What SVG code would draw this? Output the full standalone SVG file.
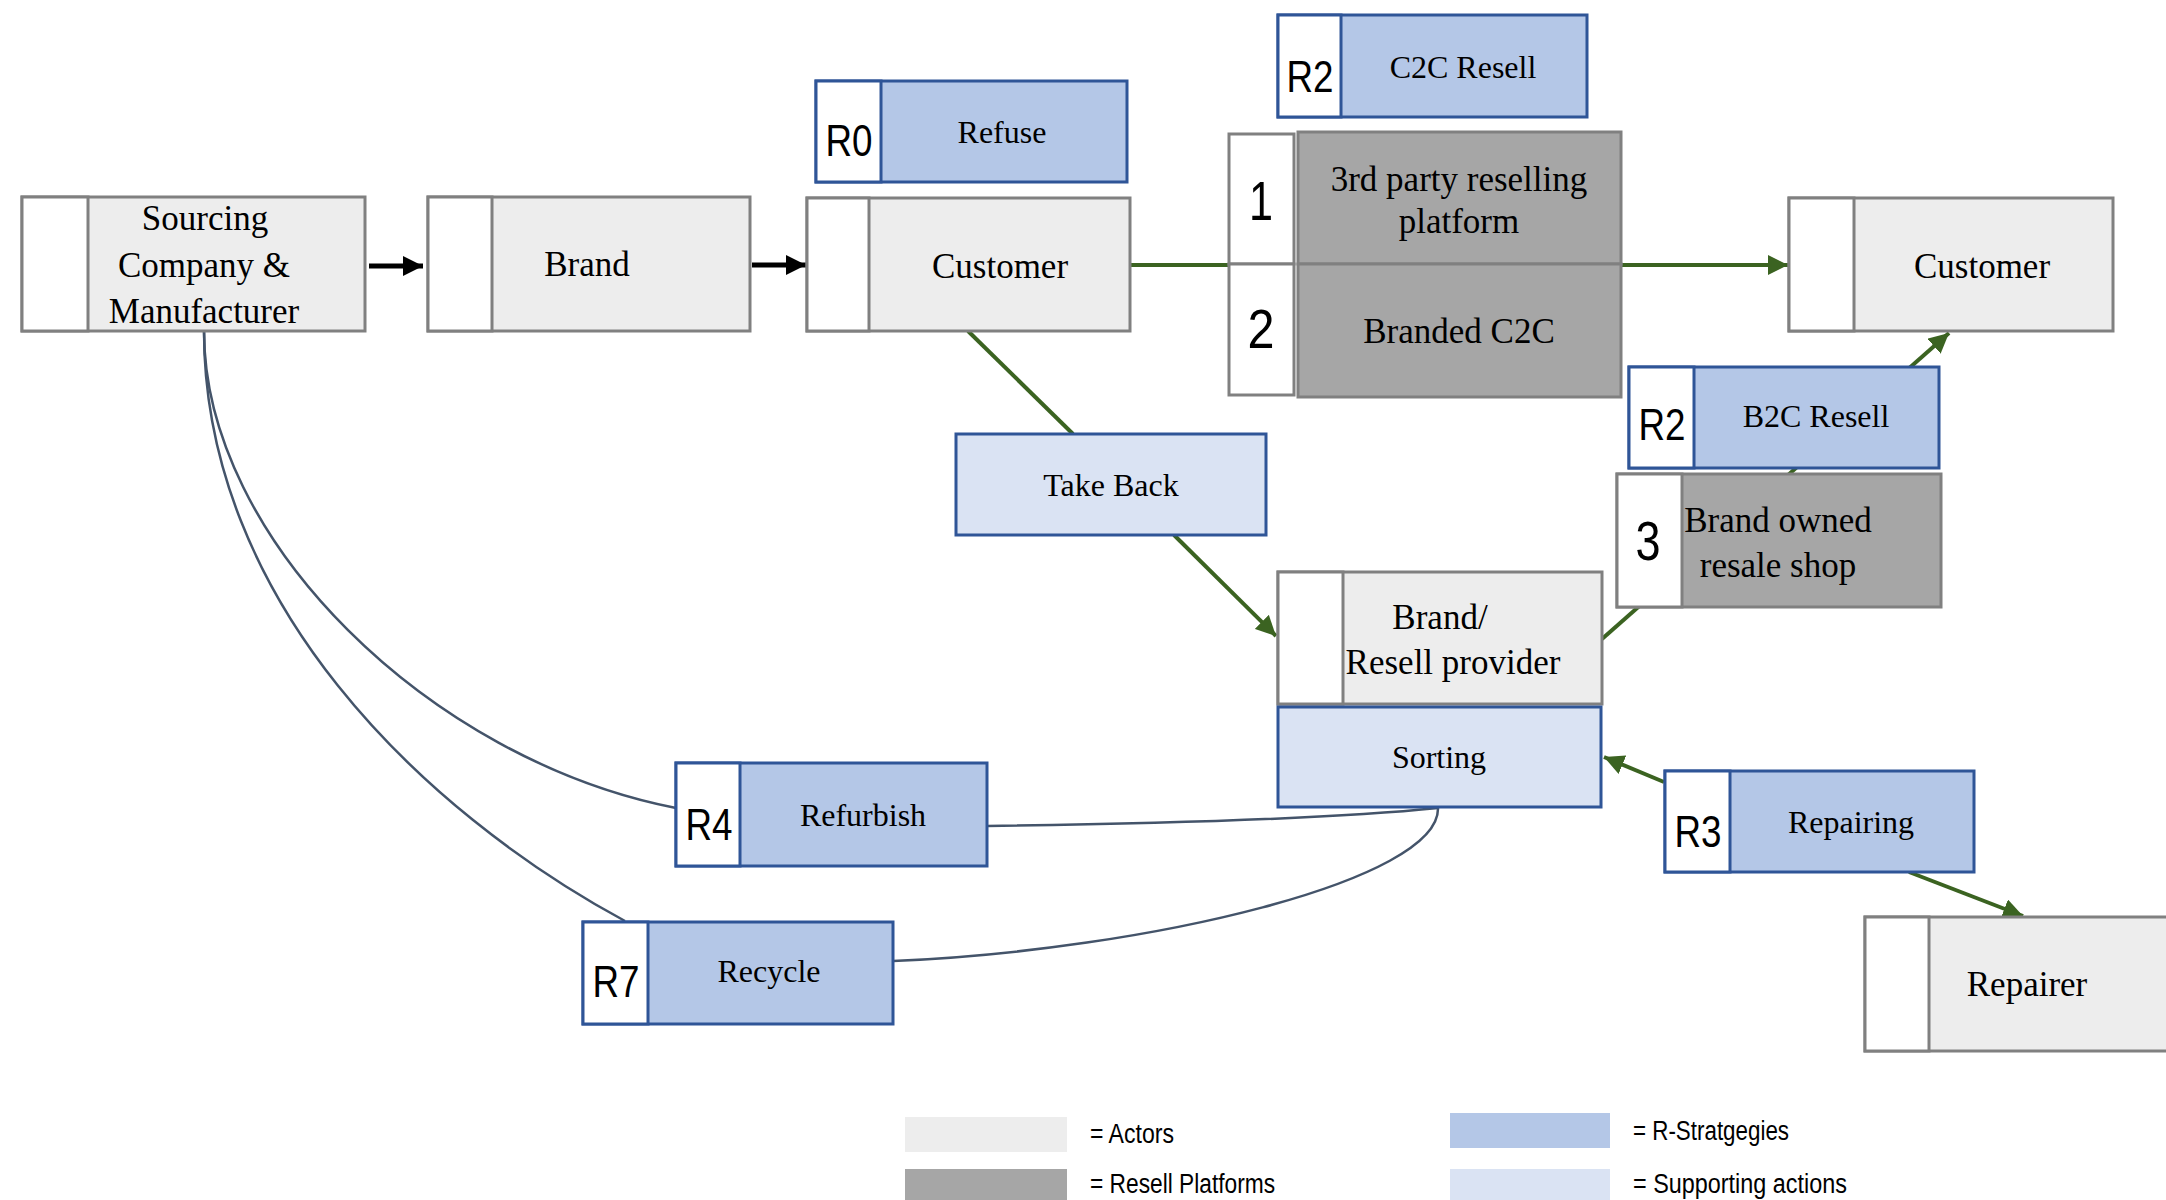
<svg xmlns="http://www.w3.org/2000/svg" width="2166" height="1200" viewBox="0 0 2166 1200">
<defs>
<style>
.act{fill:#EDEDED;stroke:#808080;stroke-width:3}
.plat{fill:#A6A6A6;stroke:#808080;stroke-width:3}
.wg{fill:#FFFFFF;stroke:#808080;stroke-width:3}
.rs{fill:#B4C7E7;stroke:#2F5597;stroke-width:3}
.sup{fill:#DAE3F3;stroke:#2F5597;stroke-width:3}
.wb{fill:#FFFFFF;stroke:#2F5597;stroke-width:3}
.t{font-family:"Liberation Serif","Times New Roman",serif;font-size:35px;fill:#000;text-anchor:middle}
.ts{font-family:"Liberation Serif","Times New Roman",serif;font-size:32px;fill:#000;text-anchor:middle}
.r{font-family:"Liberation Sans",Arial,sans-serif;font-size:44px;fill:#000;text-anchor:middle}
.n{font-family:"Liberation Sans",Arial,sans-serif;font-size:56px;fill:#000;text-anchor:middle}
.lg{font-family:"Liberation Sans",Arial,sans-serif;font-size:27px;fill:#000}
.g{stroke:#3B6321;stroke-width:4;fill:none}
.k{stroke:#000;stroke-width:5;fill:none}
.c{stroke:#44546A;stroke-width:2.5;fill:none}
</style>
<marker id="ag" viewBox="0 0 10 10" refX="10" refY="5" markerWidth="20" markerHeight="20" markerUnits="userSpaceOnUse" orient="auto"><path d="M0,0 L10,5 L0,10 z" fill="#3B6321"/></marker>
<marker id="ak" viewBox="0 0 10 10" refX="10" refY="5" markerWidth="20" markerHeight="21" markerUnits="userSpaceOnUse" orient="auto"><path d="M0,0 L10,5 L0,10 z" fill="#000"/></marker>
</defs>
<rect width="2166" height="1200" fill="#FFFFFF"/>

<g id="connectors">
<line class="k" x1="369" y1="266" x2="423" y2="266" marker-end="url(#ak)"/>
<line class="k" x1="752" y1="265" x2="806" y2="265" marker-end="url(#ak)"/>
<line class="g" x1="1130" y1="265" x2="1229" y2="265"/>
<line class="g" x1="1621" y1="265" x2="1788" y2="265" marker-end="url(#ag)"/>
<line class="g" x1="968" y1="331" x2="1073" y2="434"/>
<line class="g" x1="1174" y1="535" x2="1276" y2="636" marker-end="url(#ag)"/>
<line class="g" x1="1602" y1="639" x2="1949" y2="333" marker-end="url(#ag)"/>
<line class="g" x1="1664" y1="782" x2="1604" y2="757" marker-end="url(#ag)"/>
<line class="g" x1="1909" y1="872" x2="2023" y2="916" marker-end="url(#ag)"/>
<path class="c" d="M204,331 C204,540 430,760 676,808"/>
<path class="c" d="M204,331 C204,600 420,810 625,921"/>
<path class="c" d="M1438,808 Q1300,822 987,826"/>
<path class="c" d="M1438,808 C1440,880 1150,950 893,961"/>
</g>

<g id="sourcing">
<rect class="act" x="22" y="197" width="343" height="134"/>
<rect class="wg" x="22" y="197" width="66" height="134"/>
<text class="t" x="205" y="230">Sourcing</text>
<text class="t" x="204" y="277">Company &amp;</text>
<text class="t" x="204" y="323">Manufacturer</text>
</g>

<g id="brand">
<rect class="act" x="428" y="197" width="322" height="134"/>
<rect class="wg" x="428" y="197" width="64" height="134"/>
<text class="t" x="587" y="276">Brand</text>
</g>

<g id="customer1">
<rect class="act" x="807" y="198" width="323" height="133"/>
<rect class="wg" x="807" y="198" width="62" height="133"/>
<text class="t" x="1000" y="278">Customer</text>
</g>

<g id="refuse">
<rect class="rs" x="816" y="81" width="311" height="101"/>
<rect class="wb" x="816" y="81" width="65" height="101"/>
<text class="r" x="849" y="156" textLength="47" lengthAdjust="spacingAndGlyphs">R0</text>
<text class="ts" x="1002" y="143">Refuse</text>
</g>

<g id="c2c-resell">
<rect class="rs" x="1278" y="15" width="309" height="102"/>
<rect class="wb" x="1278" y="15" width="63" height="102"/>
<text class="r" x="1310" y="92" textLength="47" lengthAdjust="spacingAndGlyphs">R2</text>
<text class="ts" x="1463" y="78">C2C Resell</text>
</g>

<g id="platform1">
<rect class="wg" x="1229" y="134" width="65" height="130"/>
<rect class="plat" x="1298" y="132" width="323" height="132"/>
<text class="n" x="1261" y="220" textLength="24" lengthAdjust="spacingAndGlyphs">1</text>
<text class="t" x="1459" y="191">3rd party reselling</text>
<text class="t" x="1459" y="233">platform</text>
</g>

<g id="platform2">
<rect class="wg" x="1229" y="264" width="65" height="131"/>
<rect class="plat" x="1298" y="264" width="323" height="133"/>
<text class="n" x="1261" y="348" textLength="27" lengthAdjust="spacingAndGlyphs">2</text>
<text class="t" x="1459" y="343">Branded C2C</text>
</g>

<g id="customer2">
<rect class="act" x="1789" y="198" width="324" height="133"/>
<rect class="wg" x="1789" y="198" width="65" height="133"/>
<text class="t" x="1982" y="278">Customer</text>
</g>

<g id="b2c-resell">
<rect class="rs" x="1629" y="367" width="310" height="101"/>
<rect class="wb" x="1629" y="367" width="65" height="101"/>
<text class="r" x="1662" y="440" textLength="47" lengthAdjust="spacingAndGlyphs">R2</text>
<text class="ts" x="1816" y="427">B2C Resell</text>
</g>

<g id="platform3">
<rect class="plat" x="1617" y="474" width="324" height="133"/>
<rect class="wg" x="1617" y="474" width="65" height="133"/>
<text class="n" x="1648" y="560" textLength="25" lengthAdjust="spacingAndGlyphs">3</text>
<text class="t" x="1778" y="532">Brand owned</text>
<text class="t" x="1778" y="577">resale shop</text>
</g>

<g id="take-back">
<rect class="sup" x="956" y="434" width="310" height="101"/>
<text class="ts" x="1111" y="496">Take Back</text>
</g>

<g id="resell-provider">
<rect class="act" x="1278" y="572" width="324" height="132"/>
<rect class="wg" x="1278" y="572" width="65" height="132"/>
<text class="t" x="1440" y="629">Brand/</text>
<text class="t" x="1453" y="674">Resell provider</text>
</g>

<g id="sorting">
<rect class="sup" x="1278" y="707" width="323" height="100"/>
<text class="ts" x="1439" y="768">Sorting</text>
</g>

<g id="refurbish">
<rect class="rs" x="676" y="763" width="311" height="103"/>
<rect class="wb" x="676" y="763" width="64" height="103"/>
<text class="r" x="709" y="840" textLength="47" lengthAdjust="spacingAndGlyphs">R4</text>
<text class="ts" x="863" y="826">Refurbish</text>
</g>

<g id="recycle">
<rect class="rs" x="583" y="922" width="310" height="102"/>
<rect class="wb" x="583" y="922" width="65" height="102"/>
<text class="r" x="616" y="997" textLength="47" lengthAdjust="spacingAndGlyphs">R7</text>
<text class="ts" x="769" y="982">Recycle</text>
</g>

<g id="repairing">
<rect class="rs" x="1665" y="771" width="309" height="101"/>
<rect class="wb" x="1665" y="771" width="65" height="101"/>
<text class="r" x="1698" y="847" textLength="47" lengthAdjust="spacingAndGlyphs">R3</text>
<text class="ts" x="1851" y="833">Repairing</text>
</g>

<g id="repairer">
<rect class="act" x="1865" y="917" width="340" height="134"/>
<rect class="wg" x="1865" y="917" width="64" height="134"/>
<text class="t" x="2027" y="996">Repairer</text>
</g>

<g id="legend">
<rect x="905" y="1117" width="162" height="35" fill="#EDEDED"/>
<text class="lg" x="1090" y="1143" textLength="84" lengthAdjust="spacingAndGlyphs">= Actors</text>
<rect x="905" y="1169" width="162" height="36" fill="#A6A6A6"/>
<text class="lg" x="1090" y="1193" textLength="185" lengthAdjust="spacingAndGlyphs">= Resell Platforms</text>
<rect x="1450" y="1113" width="160" height="35" fill="#B4C7E7"/>
<text class="lg" x="1633" y="1140" textLength="156" lengthAdjust="spacingAndGlyphs">= R-Stratgegies</text>
<rect x="1450" y="1169" width="160" height="36" fill="#DAE3F3"/>
<text class="lg" x="1633" y="1193" textLength="214" lengthAdjust="spacingAndGlyphs">= Supporting actions</text>
</g>
</svg>
